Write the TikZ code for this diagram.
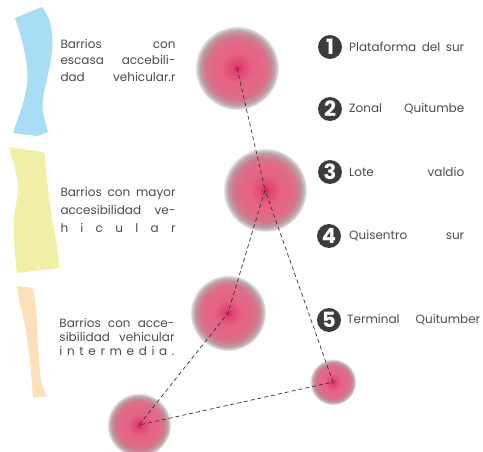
\documentclass[tikz,border=0pt]{standalone}
\usepackage{fontspec}
\setmainfont{Poppins}
\definecolor{txt}{RGB}{75,75,75}
\definecolor{numc}{RGB}{60,60,60}
\definecolor{blueb}{RGB}{168,221,246}
\definecolor{yellowb}{RGB}{242,240,168}
\definecolor{orangeb}{RGB}{253,224,185}
\pgfdeclareradialshading{spot}{\pgfpoint{0bp}{0bp}}{%
color(0bp)=(rgb,255:red,214;green,30;blue,95);
color(3bp)=(rgb,255:red,224;green,70;blue,115);
color(9bp)=(rgb,255:red,230;green,98;blue,130);
color(15bp)=(rgb,255:red,227;green,104;blue,134);
color(19bp)=(rgb,255:red,212;green,118;blue,138);
color(22bp)=(rgb,255:red,188;green,158;blue,165);
color(24bp)=(rgb,255:red,215;green,208;blue,210);
color(25bp)=(rgb,255:red,255;green,255;blue,255);
color(50bp)=(rgb,255:red,255;green,255;blue,255)}
\tikzset{
  spotc/.style={circle, shading=spot, minimum size=#1, inner sep=0pt},
  blk/.style={text=txt, inner sep=0pt, align=left, font=\fontsize{12}{#1}\selectfont},
  lg/.style={text=txt, inner sep=0pt, anchor=west, font=\fontsize{12}{13}\selectfont},
  num/.style={circle, fill=numc, text=white, inner sep=0pt, minimum size=24pt, font=\fontsize{21}{21}\selectfont\bfseries},
  link/.style={draw=black!80, dashed, dash pattern=on 4pt off 3pt, line width=0.7pt}
}
\newcommand{\jl}[1]{\makebox[115pt][s]{#1}}
\begin{document}
\begin{tikzpicture}[x=1pt,y=-1pt]
\useasboundingbox (0,0) rectangle (483,452);
% colour strips
\fill[blueb] (15,18) -- (42,7) .. controls (52,18) and (55,40) .. (50,65)
  .. controls (46,85) and (41,100) .. (43,112) .. controls (45,122) and (47,128) .. (48,132)
  -- (37,136) -- (13,133) .. controls (17,120) and (24,105) .. (27,85)
  .. controls (29,65) and (24,45) .. (15,18) -- cycle;
\fill[yellowb] (9,147) -- (43,152) -- (45,155) .. controls (46,175) and (49,200) .. (53,223)
  .. controls (56,240) and (59,255) .. (59,268) -- (17,273)
  .. controls (15,258) and (13,235) .. (14,217) .. controls (15,205) and (19,195) .. (18,185)
  .. controls (17,172) and (12,160) .. (9,147) -- cycle;
\fill[orangeb] (17,286) -- (33,288) .. controls (35,300) and (37,312) .. (37,325)
  .. controls (38,345) and (39,365) .. (41,382) -- (47,396) -- (33,398)
  .. controls (32,385) and (31,370) .. (29,352) .. controls (27,335) and (23,315) .. (20,305)
  -- (17,286) -- cycle;
% texts
\node[blk=16.5] (t1) at (118,60) {\jl{Barrios\hfill con}\\\jl{escasa\hfill accebili-}\\\jl{dad\hfill vehicular.r}};
\node[blk=18] (t2) at (118,210) {\jl{Barrios con mayor}\\\jl{accesibilidad\hfill ve-}\\\jl{h\hfill i\hfill c\hfill u\hfill l\hfill a\hfill r}};
\node[blk=14] (t3) at (117,337) {\jl{Barrios con acce-}\\\jl{sibilidad vehicular}\\\jl{i\hfill n\hfill t\hfill e\hfill r\hfill m\hfill e\hfill d\hfill i\hfill a\hfill .}};
% spots
\node[spotc=84pt] (c1) at (237,68) {};
\node[spotc=84pt] (c2) at (265,190) {};
\node[spotc=76pt] (c3) at (228,313) {};
\node[spotc=64pt] (c4) at (139,425) {};
\node[spotc=46pt] (c5) at (333,382) {};
\draw[link] (c1.center) -- (c2.center) -- (c3.center) -- (c4.center) -- (c5.center) -- (c2.center);
% legend
\node[num] (n1) at (330,47) {1};
\node[num] (n2) at (330,109) {2};
\node[num] (n3) at (330,172) {3};
\node[num] (n4) at (329,236) {4};
\node[num] (n5) at (329,320) {5};
\node[lg] (l1) at (349,47) {\makebox[115pt][s]{Plataforma del sur}};
\node[lg] (l2) at (349,109) {\makebox[115pt][s]{Zonal\hfill Quitumbe}};
\node[lg] (l3) at (349,172) {\makebox[115pt][s]{Lote\hfill valdio}};
\node[lg] (l4) at (349,236) {\makebox[115pt][s]{Quisentro\hfill sur}};
\node[lg] (l5) at (347,320) {\makebox[133pt][s]{Terminal\hfill Quitumber}};
\end{tikzpicture}
\end{document}
